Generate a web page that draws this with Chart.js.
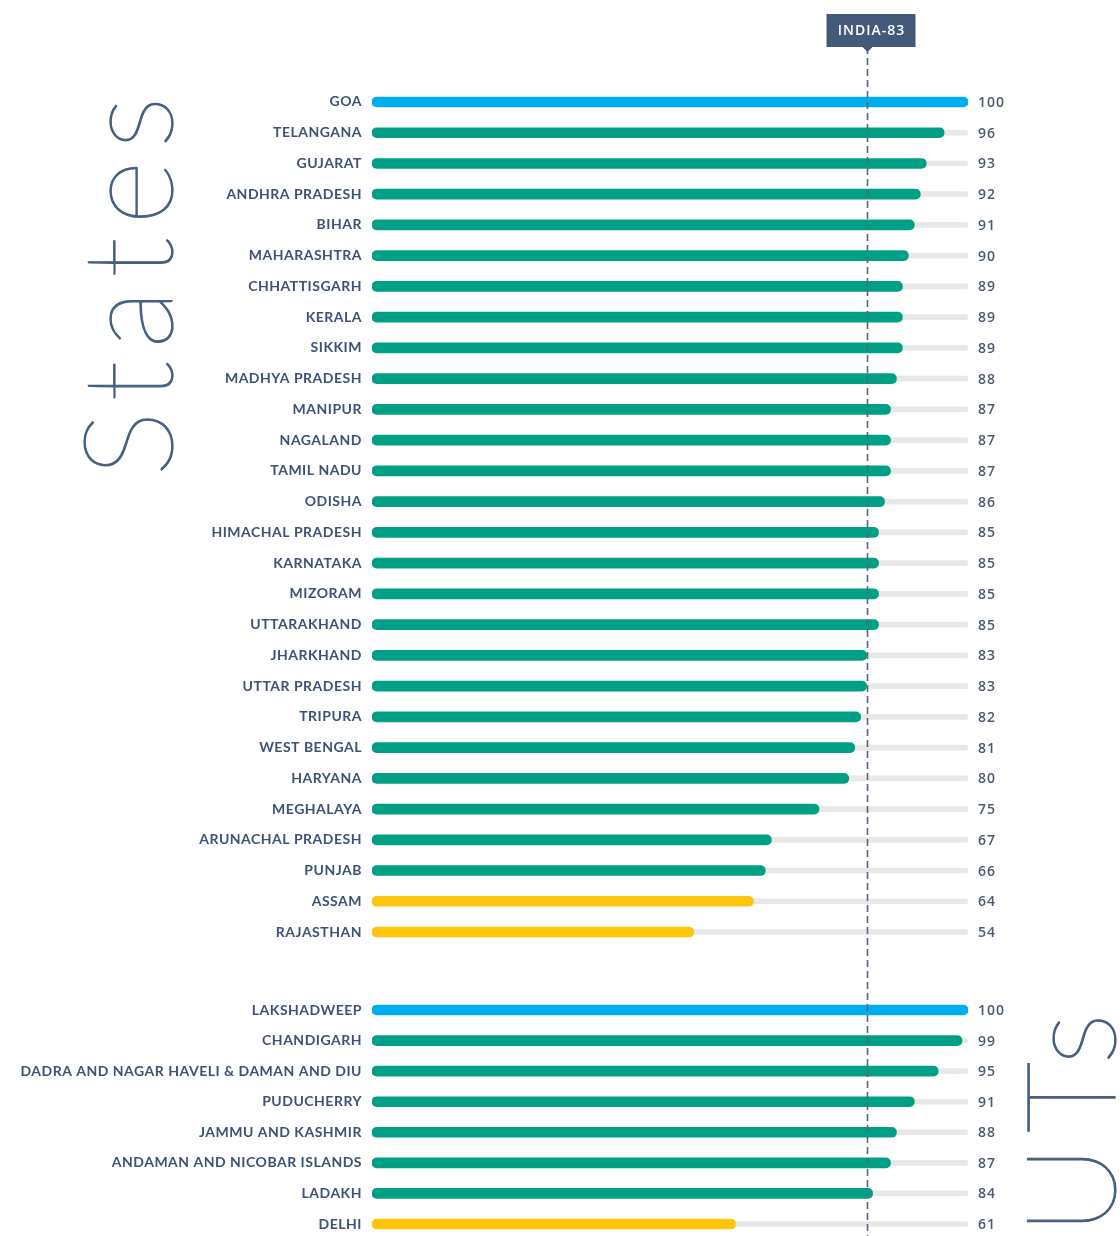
<!DOCTYPE html>
<html>
<head>
<meta charset="utf-8">
<script src="https://cdn.jsdelivr.net/npm/chart.js@4.4.1/dist/chart.umd.min.js"></script>
<style>
  html, body { margin: 0; padding: 0; background: #fff; overflow: hidden; width: 1120px; height: 1236px; }
  .box { position: absolute; left: 0; width: 1120px; }
  #statesBox { top: 0; height: 980px; }
  #utBox { top: 960px; height: 300px; }
</style>
</head>
<body>
<div class="box" id="statesBox"><canvas id="statesChart"></canvas></div>
<div class="box" id="utBox"><canvas id="utChart"></canvas></div>
<script>
const stateNames = ['GOA', 'TELANGANA', 'GUJARAT', 'ANDHRA PRADESH', 'BIHAR', 'MAHARASHTRA', 'CHHATTISGARH',
  'KERALA', 'SIKKIM', 'MADHYA PRADESH', 'MANIPUR', 'NAGALAND', 'TAMIL NADU', 'ODISHA', 'HIMACHAL PRADESH',
  'KARNATAKA', 'MIZORAM', 'UTTARAKHAND', 'JHARKHAND', 'UTTAR PRADESH', 'TRIPURA', 'WEST BENGAL', 'HARYANA',
  'MEGHALAYA', 'ARUNACHAL PRADESH', 'PUNJAB', 'ASSAM', 'RAJASTHAN'];
const stateScores = [100, 96, 93, 92, 91, 90, 89, 89, 89, 88, 87, 87, 87, 86, 85, 85, 85, 85, 83, 83, 82, 81, 80,
  75, 67, 66, 64, 54];

const utNames = ['LAKSHADWEEP', 'CHANDIGARH', 'DADRA AND NAGAR HAVELI & DAMAN AND DIU', 'PUDUCHERRY',
  'JAMMU AND KASHMIR', 'ANDAMAN AND NICOBAR ISLANDS', 'LADAKH', 'DELHI'];
const utScores = [100, 99, 95, 91, 88, 87, 84, 61];

const indiaScore = 83;
const maxScore = 100;

const BLUE = '#00aeef';
const GREEN = '#00a085';
const YELLOW = '#ffc40c';
const TRACK = '#e8e8e8';
const INK = '#3d5274';

// front runner = 100, performer 65-99, aspirant < 65
function scoreColor(v) {
  if (v === 100) return BLUE;
  if (v >= 65) return GREEN;
  return YELLOW;
}

const decorPlugin = {
  id: 'decor',
  beforeDraw(chart) {
    chart.ctx.letterSpacing = '0.5px';
  },
  afterDatasetsDraw(chart, args, opts) {
    const ctx = chart.ctx;
    const x = chart.scales.x;
    const meta = chart.getDatasetMeta(0);

    // score labels at the right
    ctx.save();
    ctx.letterSpacing = '1px';
    ctx.font = '600 14px "Open Sans"';
    ctx.fillStyle = '#4a5a72';
    ctx.textAlign = 'left';
    ctx.textBaseline = 'middle';
    meta.data.forEach((bar, i) => {
      ctx.fillText(String(chart.data.datasets[0].data[i]), x.getPixelForValue(maxScore) + 10, bar.y + 1);
    });
    ctx.restore();

    // India average line
    const lx = Math.round(x.getPixelForValue(indiaScore)) + 0.5;
    ctx.save();
    ctx.strokeStyle = '#56677d';
    ctx.lineWidth = 1.6;
    ctx.setLineDash([7, 4]);
    ctx.beginPath();
    ctx.moveTo(lx, opts.lineTop);
    ctx.lineTo(lx, opts.lineBottom);
    ctx.stroke();
    ctx.restore();

    if (opts.badge) {
      ctx.save();
      ctx.fillStyle = '#45597a';
      ctx.fillRect(lx - 41, 14, 89, 33);
      ctx.beginPath();
      ctx.moveTo(lx - 5, 47);
      ctx.lineTo(lx + 5, 47);
      ctx.lineTo(lx, 52);
      ctx.closePath();
      ctx.fill();
      ctx.letterSpacing = '1px';
      ctx.font = '600 14px "Open Sans"';
      ctx.fillStyle = '#ffffff';
      ctx.textAlign = 'center';
      ctx.textBaseline = 'middle';
      ctx.fillText('INDIA-' + indiaScore, lx + 4, 31);
      ctx.restore();
    }

    // big rotated section title
    ctx.save();
    ctx.letterSpacing = '12px';
    ctx.translate(opts.titleX, opts.titleY);
    ctx.rotate(-Math.PI / 2);
    ctx.font = '200 125px Lato';
    ctx.fillStyle = '#46607f';
    ctx.strokeStyle = '#46607f';
    ctx.lineWidth = 1.2;
    ctx.textAlign = 'left';
    ctx.textBaseline = 'alphabetic';
    ctx.fillText(opts.title, 0, 0);
    ctx.strokeText(opts.title, 0, 0);
    ctx.restore();
  }
};

function makeChart(id, names, scores, pad, decor) {
  return new Chart(document.getElementById(id), {
    type: 'bar',
    data: {
      labels: names,
      datasets: [{
        data: scores,
        backgroundColor: scores.map(scoreColor),
        barThickness: 10,
        borderRadius: 5,
        borderSkipped: false,
        grouped: false
      }, {
        data: names.map(() => maxScore),
        backgroundColor: TRACK,
        barThickness: 5,
        borderRadius: 3,
        borderSkipped: false,
        grouped: false
      }]
    },
    options: {
      indexAxis: 'y',
      responsive: true,
      maintainAspectRatio: false,
      animation: false,
      layout: { padding: { top: pad.top, bottom: pad.bottom, left: 0, right: 152 } },
      plugins: {
        legend: { display: false },
        tooltip: { enabled: false },
        decor: decor
      },
      scales: {
        x: { min: 0, max: maxScore, display: false },
        y: {
          grid: { display: false, drawTicks: false },
          border: { display: false },
          afterFit(scale) { scale.width = 372; },
          ticks: {
            autoSkip: false,
            padding: 10,
            color: INK,
            font: { family: 'Lato', weight: 'bold', size: 14 }
          }
        }
      }
    },
    plugins: [decorPlugin]
  });
}

makeChart('statesChart', stateNames, stateScores, { top: 86.6, bottom: 32.6 },
  { badge: true, lineTop: 47, lineBottom: 960, title: 'States', titleX: 172, titleY: 477 });
makeChart('utChart', utNames, utScores, { top: 34.7, bottom: 20.7 },
  { badge: false, lineTop: 0, lineBottom: 300, title: 'UTs', titleX: 1115, titleY: 275 });
</script>
</body>
</html>
